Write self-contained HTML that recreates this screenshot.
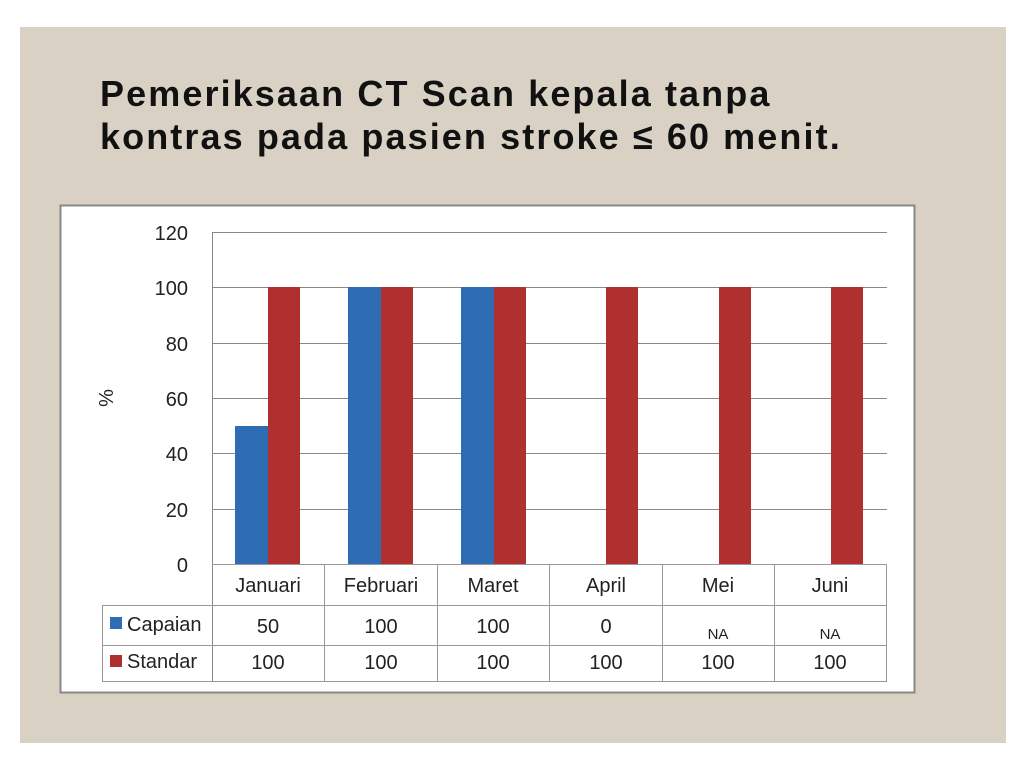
<!DOCTYPE html>
<html><head><style>
body{margin:0;width:1024px;height:770px;background:#fff;position:relative;overflow:hidden;font-family:"Liberation Sans",sans-serif}
.panel{position:absolute;left:20px;top:27px;width:986px;height:716px;background:#d9d2c4}
.t{position:absolute;left:100px;top:72px;font-size:36px;font-weight:bold;line-height:43px;color:#111;letter-spacing:2.1px}
</style></head><body>
<div class="panel"></div>
<div class="t">Pemeriksaan CT Scan kepala tanpa<br>kontras pada pasien stroke ≤ 60 menit.</div>
<svg style="position:absolute;left:0;top:0" width="1024" height="770" font-family="Liberation Sans, sans-serif">
<rect x="60.5" y="205.5" width="854" height="487" fill="#fff" stroke="#888" stroke-width="2"/>
<g stroke="#888" stroke-width="1">
<line x1="212" y1="232.5" x2="887" y2="232.5"/>
<line x1="212" y1="287.5" x2="887" y2="287.5"/>
<line x1="212" y1="343.5" x2="887" y2="343.5"/>
<line x1="212" y1="398.5" x2="887" y2="398.5"/>
<line x1="212" y1="453.5" x2="887" y2="453.5"/>
<line x1="212" y1="509.5" x2="887" y2="509.5"/>
<line x1="212.5" y1="232" x2="212.5" y2="682"/>
</g>
<g fill="#2e6db3">
<rect x="235" y="426" width="33" height="138"/>
<rect x="348" y="287" width="33" height="277"/>
<rect x="461" y="287" width="33" height="277"/>
</g>
<g fill="#b03030">
<rect x="268" y="287" width="32" height="277"/>
<rect x="381" y="287" width="32" height="277"/>
<rect x="494" y="287" width="32" height="277"/>
<rect x="606" y="287" width="32" height="277"/>
<rect x="719" y="287" width="32" height="277"/>
<rect x="831" y="287" width="32" height="277"/>
</g>
<g stroke="#999" stroke-width="1" fill="none">
<line x1="212" y1="564.5" x2="887" y2="564.5"/>
<line x1="102" y1="605.5" x2="887" y2="605.5"/>
<line x1="102" y1="645.5" x2="887" y2="645.5"/>
<line x1="102" y1="681.5" x2="887" y2="681.5"/>
<line x1="102.5" y1="605" x2="102.5" y2="682"/>
<line x1="324.5" y1="564" x2="324.5" y2="682"/>
<line x1="437.5" y1="564" x2="437.5" y2="682"/>
<line x1="549.5" y1="564" x2="549.5" y2="682"/>
<line x1="662.5" y1="564" x2="662.5" y2="682"/>
<line x1="774.5" y1="564" x2="774.5" y2="682"/>
<line x1="886.5" y1="564" x2="886.5" y2="682"/>
</g>
<g font-size="20" fill="#222" text-anchor="end">
<text x="188" y="240">120</text><text x="188" y="295">100</text><text x="188" y="351">80</text>
<text x="188" y="406">60</text><text x="188" y="461">40</text><text x="188" y="517">20</text><text x="188" y="572">0</text>
</g>
<text transform="translate(113,398) rotate(-90)" font-size="20" text-anchor="middle" fill="#222">%</text>
<g font-size="20" fill="#222" text-anchor="middle">
<text x="268" y="592">Januari</text><text x="381" y="592">Februari</text><text x="493" y="592">Maret</text>
<text x="606" y="592">April</text><text x="718" y="592">Mei</text><text x="830" y="592">Juni</text>
<text x="268" y="633">50</text><text x="381" y="633">100</text><text x="493" y="633">100</text>
<text x="606" y="633">0</text><text x="718" y="639" font-size="15">NA</text><text x="830" y="639" font-size="15">NA</text>
<text x="268" y="669">100</text><text x="381" y="669">100</text><text x="493" y="669">100</text>
<text x="606" y="669">100</text><text x="718" y="669">100</text><text x="830" y="669">100</text>
</g>
<rect x="110" y="617" width="12" height="12" fill="#2e6db3"/>
<rect x="110" y="655" width="12" height="12" fill="#b03030"/>
<g font-size="20" fill="#222"><text x="127" y="631">Capaian</text><text x="127" y="668">Standar</text></g>
</svg>
</body></html>
